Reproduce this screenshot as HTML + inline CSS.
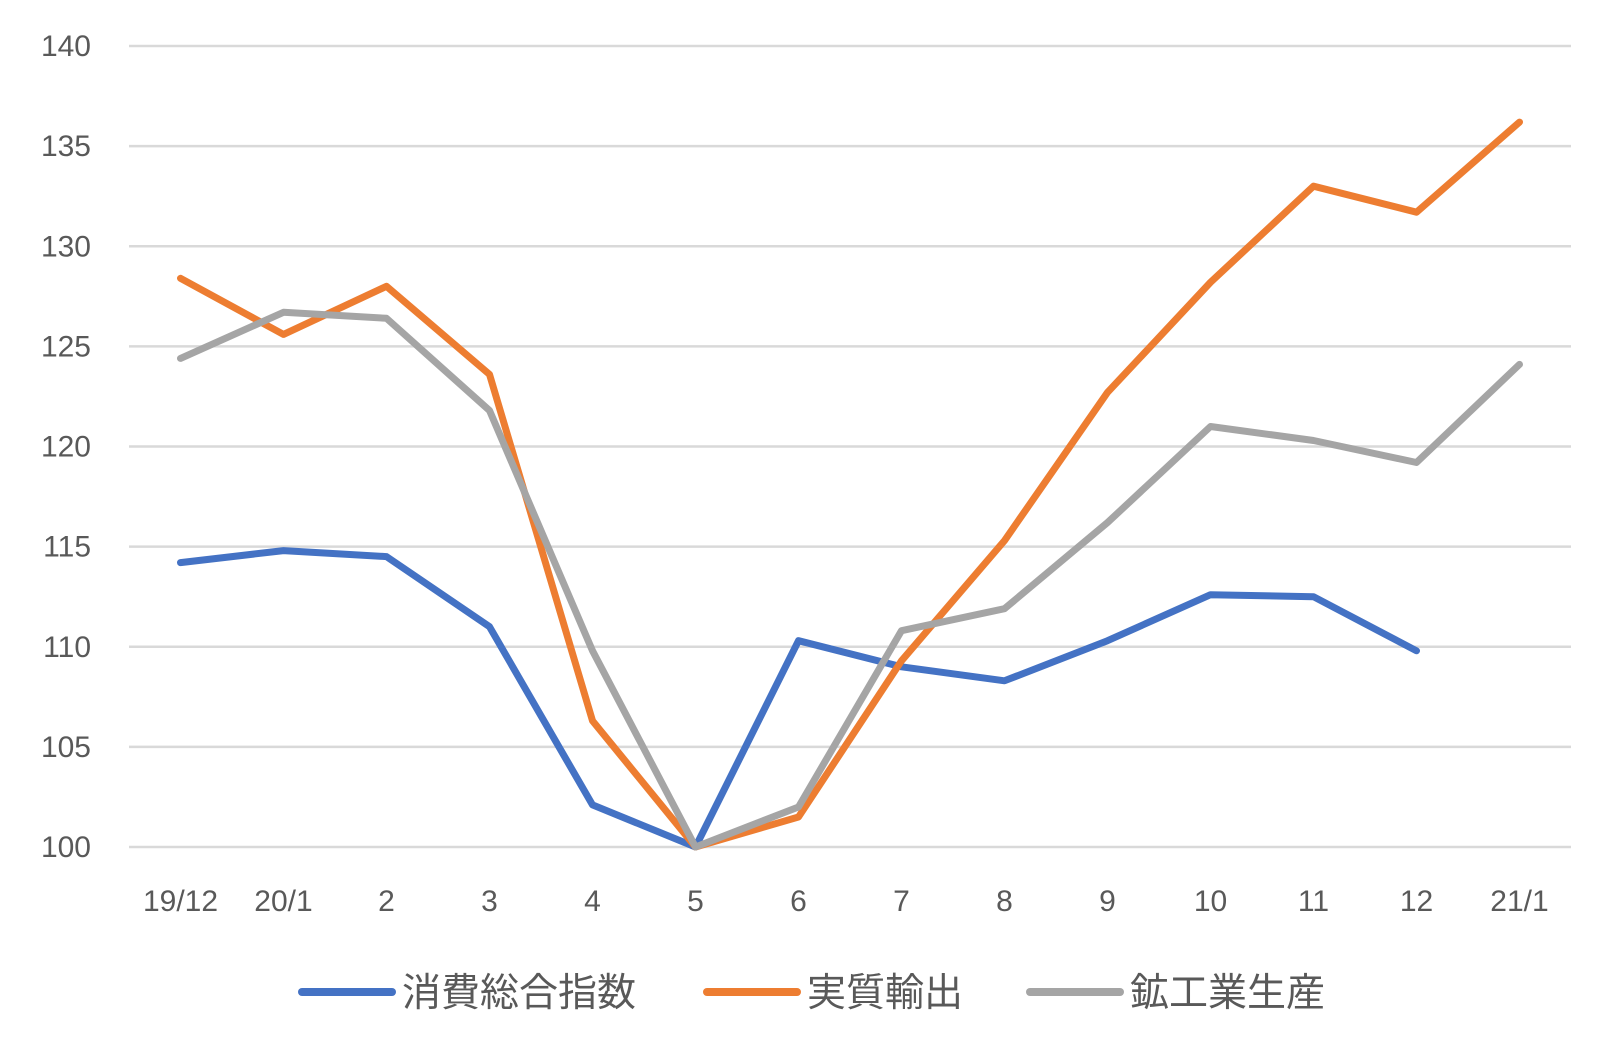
<!DOCTYPE html>
<html><head><meta charset="utf-8"><style>
html,body{margin:0;padding:0;background:#fff;width:1617px;height:1043px;overflow:hidden}
svg text{font-family:"Liberation Sans","Noto Sans CJK JP",sans-serif;fill:#595959}
</style></head><body>
<svg id="chart" width="1617" height="1043" xmlns="http://www.w3.org/2000/svg">
<g id="grid"></g><g id="yticks"></g><g id="xticks"></g><g id="lines"></g><g id="legend"></g>
</svg>
<script>
const categories=["19/12","20/1","2","3","4","5","6","7","8","9","10","11","12","21/1"];
const yTicks=[100,105,110,115,120,125,130,135,140];
const consumption=[114.2,114.8,114.5,111,102.1,100,110.3,109,108.3,110.3,112.6,112.5,109.8,null];
const exports=[128.4,125.6,128,123.6,106.3,100,101.5,109.3,115.3,122.7,128.2,133,131.7,136.2];
const production=[124.4,126.7,126.4,121.8,109.8,100,102,110.8,111.9,116.2,121,120.3,119.2,124.1];
const seriesNames=["消費総合指数","実質輸出","鉱工業生産"];
const NS="http://www.w3.org/2000/svg";
const L=129,R=1571,T=46,B=847;
const x=i=>L+(R-L)/categories.length*(i+0.5);
const y=v=>B-(v-100)/40*(B-T);
function mk(tag,attrs,parent){const e=document.createElementNS(NS,tag);for(const k in attrs)e.setAttribute(k,attrs[k]);parent.appendChild(e);return e;}
const g=document.getElementById('grid'),yt=document.getElementById('yticks'),xt=document.getElementById('xticks'),ln=document.getElementById('lines'),lg=document.getElementById('legend');
yTicks.forEach(v=>{
 const l=mk('line',{x1:L,x2:R,y1:y(v),y2:y(v),stroke:'#d9d9d9','stroke-width':2.5},g);
 
 
 const t=mk('text',{x:91,y:y(v)+10,'text-anchor':'end','font-size':30},yt);
 t.textContent=v;
 
 
});
categories.forEach((c,i)=>{
 const t=mk('text',{x:x(i),y:911,'text-anchor':'middle','font-size':30},xt);
 t.textContent=c;
 
 
});
const series=[[consumption,'#4472c4'],[exports,'#ed7d31'],[production,'#a5a5a5']];
const names=['consumption-line','exports-line','production-line'];
series.forEach(([d,c],si)=>{
 let pts=[];d.forEach((v,i)=>{if(v!==null)pts.push(x(i).toFixed(1)+','+y(v).toFixed(1));});
 const p=mk('polyline',{points:pts.join(' '),fill:'none',stroke:c,'stroke-width':7,'stroke-linejoin':'round','stroke-linecap':'round'},ln);
 
 
});
const legX=[302,707,1030];
series.forEach(([d,c],si)=>{
 const gg=mk('g',{},lg);
 
 
 mk('line',{x1:legX[si],x2:legX[si]+90,y1:992,y2:992,stroke:c,'stroke-width':8,'stroke-linecap':'round'},gg);
 const t=mk('text',{x:legX[si]+100,y:1006,'font-size':39},gg);
 t.textContent=seriesNames[si];
});
</script>
</body></html>
